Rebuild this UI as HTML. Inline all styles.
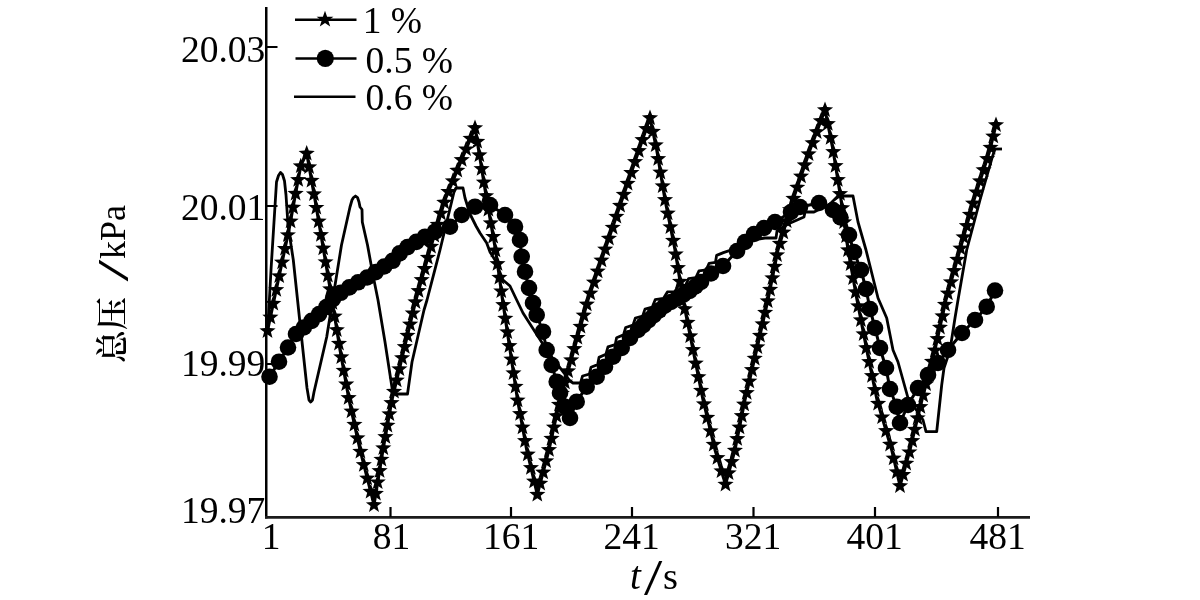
<!DOCTYPE html>
<html><head><meta charset="utf-8"><title>chart</title>
<style>
html,body{margin:0;padding:0;background:#fff;}
body{width:1200px;height:600px;overflow:hidden;}
svg{display:block;}
text{font-family:"Liberation Serif","Noto Serif CJK SC",serif;fill:#000;}
.cjk{font-family:"Liberation Serif","Noto Serif CJK SC",serif;font-weight:600;}
</style></head><body>
<svg width="1200" height="600" viewBox="0 0 1200 600">
<rect width="1200" height="600" fill="#fff"/>
<g style="filter:blur(0.45px)">
<!-- axes -->
<path d="M266.25,7V518.5" stroke="#000" stroke-width="2.5" fill="none"/>
<path d="M265,517.4H1030" stroke="#1c1c1c" stroke-width="2.9" fill="none"/>
<path d="M390.5,517V507M511,517V507M632,517V507M753.5,517V507M875,517V507M998,517V507M266,47H277.5M266,206H277.5M266,364H277.5" stroke="#000" stroke-width="2.2" fill="none"/>
<!-- y tick labels -->
<g font-size="37.5" text-anchor="end">
<text x="265.3" y="62.3">20.03</text>
<text x="265.3" y="220">20.01</text>
<text x="265.3" y="375.7">19.99</text>
<text x="265.3" y="522.5">19.97</text>
</g>
<!-- x tick labels -->
<g font-size="37.5" text-anchor="middle">
<text x="271" y="548.7">1</text>
<text x="391.5" y="548.7">81</text>
<text x="511" y="548.7">161</text>
<text x="631.5" y="548.7">241</text>
<text x="753" y="548.7">321</text>
<text x="874.5" y="548.7">401</text>
<text x="997.5" y="548.7">481</text>
</g>
<!-- axis titles -->
<text x="630" y="589" font-size="39" font-style="italic">t</text>
<text transform="translate(644,594) scale(1.32,1)" font-size="50">/</text>
<text x="663" y="589" font-size="38.5">s</text>
<g transform="translate(125,360) rotate(-90)">
<text class="cjk" x="-3" y="-1" font-size="33">总压</text>
<text transform="translate(78.5,3) scale(1.75,1)" font-size="45">/</text>
<text x="101" y="0" font-size="36">kPa</text>
</g>
<!-- legend -->
<path d="M295,19.7H356.5M295.5,58.5H356.5" stroke="#000" stroke-width="2.5" fill="none"/>
<path d="M294,96.7H355.5" stroke="#000" stroke-width="2.5" fill="none"/>
<path d="M325,10.7 327.1,16.7 333.4,16.8 328.3,20.6 330.2,26.6 325,23 319.8,26.6 321.7,20.6 316.6,16.8 322.9,16.7Z" fill="#000"/>
<circle cx="325.3" cy="58.3" r="8.6" fill="#000"/>
<g font-size="37.5">
<text x="362.7" y="32.5">1 %</text>
<text x="365.5" y="73">0.5 %</text>
<text x="365.5" y="110">0.6 %</text>
</g>
<!-- series 0.6 % -->
<path d="M268,325 L271,270 L274,222 L276.5,182 L278.5,175.5 L280.5,172.5 L282.5,174.5 L284.5,181 L286,195 L288,225 L293.3,260 L300,323 L307,388 L309,400 L310.7,402 L312.5,400 L314,392 L326.7,337 L341.5,245 L350,207 L352,200 L353.5,197.5 L355.5,196 L357.5,197.5 L359,202 L360,207 L362,209.5 L362.3,222 L367.5,245 L373.3,276.7 L378,300 L385,342 L393,394 L407.5,394 L412,362 L424,310 L427,300 L440,250 L454,192 L456,188 L463,188 L465,198 L470,214 L476,226 L480,233 L486.7,243 L490,252 L495,260 L503,280 L510,286 L516.7,300 L523,313 L535,331.7 L548,352 L563,371.7 L570,381 L573,383 L580,383 L580.6,382.6 L582.6,376 L589.4,374.1 L591,367.2 L597.7,364.6 L599,357.4 L605.9,354.3 L608,346.8 L615.2,344.7 L616.6,337.7 L623.5,334.9 L625.7,327.5 L633,325.1 L635.4,318 L642.6,316.1 L645,309.1 L652.2,307.2 L655.2,299.7 L663.4,298.4 L667.4,291.9 L674.8,291.6 L678.6,285.3 L685.7,285.1 L688.6,278.7 L695.9,277.6 L699,270.9 L706.3,269.8 L709.1,263.3 L715.5,262.3 L716.6,255.4 L723.4,252.6 L740,247 L748,247 L752,240 L765,238 L776,238 L777,231 L788,224 L804,217 L805,212 L814,212 L822,208 L830,204 L834,200 L838,196 L853,196 L858,222 L866,250 L874,282 L878,298 L886.7,318 L893,350 L898,362 L908,398 L915,408 L923,420 L926,431.7 L936.7,431.7 L938.7,413 L941.7,385 L944,368 L950,350 L955,318 L958,300 L966.7,250 L980,200 L992,158 L995,149" stroke="#000" stroke-width="2.8" fill="none" stroke-linejoin="round"/>
<path d="M989,149 L1002,149" stroke="#000" stroke-width="2.8" fill="none"/>
<!-- series 0.5 % -->
<path d="M269.5,376.7 L279,361.7 L288,347.5 L296,334 L303.8,327.5 L311.6,320.9 L319.1,314.1 L326.4,307 L332.9,299.2 L340.7,292.8 L349.3,287.4 L358.1,282.3 L367.1,277.5 L375.7,272.1 L384.2,266.5 L392.6,260.8 L399.6,253.4 L407.5,247.1 L416.3,241.9 L425,236.7 L435,231.7 L450,226.7 L461.7,215 L475,206.7 L490,205 L505,215 L515,226.7 L520,240 L521.7,256.7 L525,271.7 L529,288 L533,303 L536.7,315 L543,331.7 L546.7,350 L551.7,365 L556.7,381.7 L560,393 L565,406.7 L570,418 L576.7,401.7 L586.7,386.7 L596.7,376.7 L605,366.7 L613,356.7 L621.7,348 L630,338 L638,330 L643.3,325.1 L648.6,320.1 L653.9,315.2 L659.2,310.3 L664.7,305.7 L670.9,302 L677.2,298.3 L683.4,294.6 L689.6,290.9 L695.3,286.5 L701,282 L711,273.5 L723,266 L737,251 L745,242 L754,234 L764,228 L775,222 L791,212 L800,207 L819,203 L833,210 L840.5,217.5 L849,235 L854,252 L861,270 L866,289 L870,309 L875,328 L880,348 L886,368 L890,389 L896.7,406.7 L900,423 L908,405 L918,388 L928,375 L938,363 L948,350 L962,333 L975,320 L986.7,306.7 L995,290.5" stroke="#000" stroke-width="3" fill="none" stroke-linejoin="round"/>
<g fill="#000"><circle cx="269.5" cy="376.7" r="8.3"/><circle cx="279" cy="361.7" r="8.3"/><circle cx="288" cy="347.5" r="8.3"/><circle cx="296" cy="334" r="8.3"/><circle cx="303.8" cy="327.5" r="8.3"/><circle cx="311.6" cy="320.9" r="8.3"/><circle cx="319.1" cy="314.1" r="8.3"/><circle cx="326.4" cy="307" r="8.3"/><circle cx="332.9" cy="299.2" r="8.3"/><circle cx="340.7" cy="292.8" r="8.3"/><circle cx="349.3" cy="287.4" r="8.3"/><circle cx="358.1" cy="282.3" r="8.3"/><circle cx="367.1" cy="277.5" r="8.3"/><circle cx="375.7" cy="272.1" r="8.3"/><circle cx="384.2" cy="266.5" r="8.3"/><circle cx="392.6" cy="260.8" r="8.3"/><circle cx="399.6" cy="253.4" r="8.3"/><circle cx="407.5" cy="247.1" r="8.3"/><circle cx="416.3" cy="241.9" r="8.3"/><circle cx="425" cy="236.7" r="8.3"/><circle cx="435" cy="231.7" r="8.3"/><circle cx="450" cy="226.7" r="8.3"/><circle cx="461.7" cy="215" r="8.3"/><circle cx="475" cy="206.7" r="8.3"/><circle cx="490" cy="205" r="8.3"/><circle cx="505" cy="215" r="8.3"/><circle cx="515" cy="226.7" r="8.3"/><circle cx="520" cy="240" r="8.3"/><circle cx="521.7" cy="256.7" r="8.3"/><circle cx="525" cy="271.7" r="8.3"/><circle cx="529" cy="288" r="8.3"/><circle cx="533" cy="303" r="8.3"/><circle cx="536.7" cy="315" r="8.3"/><circle cx="543" cy="331.7" r="8.3"/><circle cx="546.7" cy="350" r="8.3"/><circle cx="551.7" cy="365" r="8.3"/><circle cx="556.7" cy="381.7" r="8.3"/><circle cx="560" cy="393" r="8.3"/><circle cx="565" cy="406.7" r="8.3"/><circle cx="570" cy="418" r="8.3"/><circle cx="576.7" cy="401.7" r="8.3"/><circle cx="586.7" cy="386.7" r="8.3"/><circle cx="596.7" cy="376.7" r="8.3"/><circle cx="605" cy="366.7" r="8.3"/><circle cx="613" cy="356.7" r="8.3"/><circle cx="621.7" cy="348" r="8.3"/><circle cx="630" cy="338" r="8.3"/><circle cx="638" cy="330" r="8.3"/><circle cx="643.3" cy="325.1" r="8.3"/><circle cx="648.6" cy="320.1" r="8.3"/><circle cx="653.9" cy="315.2" r="8.3"/><circle cx="659.2" cy="310.3" r="8.3"/><circle cx="664.7" cy="305.7" r="8.3"/><circle cx="670.9" cy="302" r="8.3"/><circle cx="677.2" cy="298.3" r="8.3"/><circle cx="683.4" cy="294.6" r="8.3"/><circle cx="689.6" cy="290.9" r="8.3"/><circle cx="695.3" cy="286.5" r="8.3"/><circle cx="701" cy="282" r="8.3"/><circle cx="711" cy="273.5" r="8.3"/><circle cx="723" cy="266" r="8.3"/><circle cx="737" cy="251" r="8.3"/><circle cx="745" cy="242" r="8.3"/><circle cx="754" cy="234" r="8.3"/><circle cx="764" cy="228" r="8.3"/><circle cx="775" cy="222" r="8.3"/><circle cx="791" cy="212" r="8.3"/><circle cx="800" cy="207" r="8.3"/><circle cx="819" cy="203" r="8.3"/><circle cx="833" cy="210" r="8.3"/><circle cx="840.5" cy="217.5" r="8.3"/><circle cx="849" cy="235" r="8.3"/><circle cx="854" cy="252" r="8.3"/><circle cx="861" cy="270" r="8.3"/><circle cx="866" cy="289" r="8.3"/><circle cx="870" cy="309" r="8.3"/><circle cx="875" cy="328" r="8.3"/><circle cx="880" cy="348" r="8.3"/><circle cx="886" cy="368" r="8.3"/><circle cx="890" cy="389" r="8.3"/><circle cx="896.7" cy="406.7" r="8.3"/><circle cx="900" cy="423" r="8.3"/><circle cx="908" cy="405" r="8.3"/><circle cx="918" cy="388" r="8.3"/><circle cx="928" cy="375" r="8.3"/><circle cx="938" cy="363" r="8.3"/><circle cx="948" cy="350" r="8.3"/><circle cx="962" cy="333" r="8.3"/><circle cx="975" cy="320" r="8.3"/><circle cx="986.7" cy="306.7" r="8.3"/><circle cx="995" cy="290.5" r="8.3"/></g>
<!-- series 1 % -->
<path d="M267.5,331 L289,230 L295,197 L301,165 L306.7,153.5 L315,200 L323.5,250 L332,300 L340,350 L349,400 L360,450 L374,505 L383,450 L392,400 L416,300 L430,250 L445,200 L475,128 L486.7,200 L495.5,250 L502.5,300 L510,350 L517.5,400 L526.7,450 L537.3,494.7 L549,450 L560,400 L588,300 L605,250 L622,200 L650,118 L656.7,150 L665,200 L675,250 L683,300 L693,350 L703,400 L715,450 L725.5,484.5 L735,450 L745,400 L756.7,350 L768,300 L778,250 L793,200 L810,150 L825,110 L833,150 L841,200 L848,250 L857,300 L866.7,350 L877,400 L891.7,450 L900,486 L910,450 L922,400 L935,350 L946,300 L960,250 L974,200 L990,150 L996,125" stroke="#000" stroke-width="3" fill="none" stroke-linejoin="round"/>
<path d="M267.5,322.5 269.6,328.1 275.6,328.4 270.9,332.1 272.5,337.9 267.5,334.6 262.5,337.9 264.1,332.1 259.4,328.4 265.4,328.1ZM270.4,308.8 272.5,314.4 278.5,314.7 273.8,318.4 275.4,324.2 270.4,320.9 265.4,324.2 267,318.4 262.3,314.7 268.3,314.4ZM273.3,295.1 275.4,300.7 281.4,301 276.7,304.7 278.3,310.5 273.3,307.2 268.3,310.5 269.9,304.7 265.3,301 271.2,300.7ZM276.3,281.4 278.4,287 284.3,287.2 279.6,291 281.3,296.8 276.3,293.4 271.3,296.8 272.9,291 268.2,287.2 274.2,287ZM279.2,267.7 281.3,273.3 287.3,273.5 282.6,277.3 284.2,283 279.2,279.7 274.2,283 275.8,277.3 271.1,273.5 277.1,273.3ZM282.1,254 284.2,259.6 290.2,259.8 285.5,263.6 287.1,269.3 282.1,266 277.1,269.3 278.7,263.6 274,259.8 280,259.6ZM285,240.3 287.1,245.9 293.1,246.1 288.4,249.9 290,255.6 285,252.3 280,255.6 281.6,249.9 276.9,246.1 282.9,245.9ZM287.9,226.5 290,232.2 296,232.4 291.3,236.1 292.9,241.9 287.9,238.6 282.9,241.9 284.5,236.1 279.8,232.4 285.8,232.2ZM290.6,212.8 292.7,218.4 298.7,218.7 294,222.4 295.6,228.2 290.6,224.9 285.6,228.2 287.2,222.4 282.5,218.7 288.5,218.4ZM293.1,199 295.2,204.6 301.2,204.9 296.5,208.6 298.1,214.4 293.1,211.1 288.1,214.4 289.7,208.6 285,204.9 291,204.6ZM295.6,185.2 297.7,190.8 303.7,191.1 299,194.8 300.6,200.6 295.6,197.3 290.6,200.6 292.2,194.8 287.5,191.1 293.5,190.8ZM298.2,171.4 300.3,177 306.3,177.3 301.6,181 303.2,186.8 298.2,183.5 293.2,186.8 294.8,181 290.1,177.3 296.1,177ZM300.8,157.7 302.9,163.3 308.9,163.5 304.2,167.3 305.8,173 300.8,169.7 295.8,173 297.4,167.3 292.7,163.5 298.7,163.3ZM306.7,145 308.8,150.6 314.8,150.9 310.1,154.6 311.7,160.4 306.7,157.1 301.7,160.4 303.3,154.6 298.6,150.9 304.6,150.6ZM309.1,158.6 311.2,164.2 317.2,164.4 312.5,168.2 314.1,173.9 309.1,170.6 304.1,173.9 305.7,168.2 301,164.4 307,164.2ZM311.5,172.1 313.6,177.7 319.6,178 314.9,181.7 316.5,187.5 311.5,184.2 306.5,187.5 308.1,181.7 303.5,178 309.4,177.7ZM314,185.7 316.1,191.3 322,191.5 317.4,195.3 319,201 314,197.7 309,201 310.6,195.3 305.9,191.5 311.9,191.3ZM316.3,199.2 318.4,204.9 324.4,205.1 319.7,208.8 321.3,214.6 316.3,211.3 311.3,214.6 312.9,208.8 308.2,205.1 314.2,204.9ZM318.6,212.8 320.7,218.4 326.7,218.7 322,222.4 323.6,228.2 318.6,224.9 313.6,228.2 315.2,222.4 310.5,218.7 316.5,218.4ZM320.9,226.4 323,232 329,232.3 324.3,236 325.9,241.8 320.9,238.5 315.9,241.8 317.5,236 312.8,232.3 318.8,232ZM323.2,240 325.3,245.6 331.3,245.8 326.6,249.6 328.2,255.3 323.2,252 318.2,255.3 319.8,249.6 315.2,245.8 321.1,245.6ZM325.5,253.5 327.6,259.2 333.6,259.4 328.9,263.1 330.5,268.9 325.5,265.6 320.6,268.9 322.2,263.1 317.5,259.4 323.4,259.2ZM327.9,267.1 330,272.7 335.9,273 331.3,276.7 332.9,282.5 327.9,279.2 322.9,282.5 324.5,276.7 319.8,273 325.8,272.7ZM330.2,280.7 332.3,286.3 338.2,286.6 333.6,290.3 335.2,296.1 330.2,292.8 325.2,296.1 326.8,290.3 322.1,286.6 328.1,286.3ZM332.4,294.3 334.5,299.9 340.5,300.2 335.8,303.9 337.4,309.7 332.4,306.4 327.4,309.7 329,303.9 324.4,300.2 330.3,299.9ZM334.6,307.9 336.7,313.5 342.7,313.8 338,317.5 339.6,323.3 334.6,319.9 329.6,323.3 331.2,317.5 326.5,313.8 332.5,313.5ZM336.8,321.5 338.9,327.1 344.9,327.4 340.2,331.1 341.8,336.9 336.8,333.5 331.8,336.9 333.4,331.1 328.7,327.4 334.7,327.1ZM339,335.1 341.1,340.7 347.1,341 342.4,344.7 344,350.5 339,347.1 334,350.5 335.6,344.7 330.9,341 336.9,340.7ZM341.3,348.7 343.4,354.3 349.4,354.5 344.7,358.3 346.3,364 341.3,360.7 336.3,364 337.9,358.3 333.2,354.5 339.2,354.3ZM343.7,362.2 345.8,367.8 351.8,368.1 347.1,371.8 348.7,377.6 343.7,374.3 338.7,377.6 340.3,371.8 335.6,368.1 341.6,367.8ZM346.2,375.8 348.3,381.4 354.3,381.6 349.6,385.4 351.2,391.1 346.2,387.8 341.2,391.1 342.8,385.4 338.1,381.6 344.1,381.4ZM348.6,389.3 350.7,394.9 356.7,395.2 352,398.9 353.6,404.7 348.6,401.4 343.6,404.7 345.2,398.9 340.5,395.2 346.5,394.9ZM351.5,402.8 353.6,408.4 359.6,408.7 354.9,412.4 356.5,418.2 351.5,414.8 346.5,418.2 348.1,412.4 343.4,408.7 349.4,408.4ZM354.4,416.2 356.5,421.8 362.5,422.1 357.8,425.8 359.4,431.6 354.4,428.3 349.4,431.6 351,425.8 346.4,422.1 352.3,421.8ZM357.4,429.7 359.5,435.3 365.5,435.6 360.8,439.3 362.4,445.1 357.4,441.7 352.4,445.1 354,439.3 349.3,435.6 355.3,435.3ZM360.4,443.1 362.5,448.7 368.5,449 363.8,452.7 365.4,458.5 360.4,455.2 355.4,458.5 357,452.7 352.3,449 358.3,448.7ZM363.8,456.5 365.9,462.1 371.9,462.3 367.2,466.1 368.8,471.8 363.8,468.5 358.8,471.8 360.4,466.1 355.7,462.3 361.7,462.1ZM367.2,469.8 369.3,475.4 375.3,475.7 370.6,479.4 372.2,485.2 367.2,481.9 362.2,485.2 363.8,479.4 359.1,475.7 365.1,475.4ZM370.6,483.2 372.7,488.8 378.7,489 374,492.8 375.6,498.5 370.6,495.2 365.6,498.5 367.2,492.8 362.5,489 368.5,488.8ZM374,496.5 376.1,502.1 382.1,502.4 377.4,506.1 379,511.9 374,508.6 369,511.9 370.6,506.1 365.9,502.4 371.9,502.1ZM375.9,485.1 378,490.7 383.9,491 379.3,494.7 380.9,500.5 375.9,497.2 370.9,500.5 372.5,494.7 367.8,491 373.8,490.7ZM377.7,473.8 379.8,479.4 385.8,479.6 381.1,483.4 382.7,489.1 377.7,485.8 372.7,489.1 374.3,483.4 369.6,479.6 375.6,479.4ZM379.6,462.4 381.7,468 387.7,468.3 383,472 384.6,477.8 379.6,474.5 374.6,477.8 376.2,472 371.5,468.3 377.5,468ZM381.4,451 383.5,456.7 389.5,456.9 384.8,460.6 386.4,466.4 381.4,463.1 376.4,466.4 378,460.6 373.4,456.9 379.3,456.7ZM383.3,439.7 385.4,445.3 391.4,445.6 386.7,449.3 388.3,455.1 383.3,451.8 378.3,455.1 379.9,449.3 375.2,445.6 381.2,445.3ZM385.4,428.4 387.5,434 393.5,434.2 388.8,438 390.4,443.7 385.4,440.4 380.4,443.7 382,438 377.3,434.2 383.3,434ZM387.4,417 389.5,422.6 395.5,422.9 390.8,426.6 392.4,432.4 387.4,429.1 382.4,432.4 384,426.6 379.3,422.9 385.3,422.6ZM389.4,405.7 391.5,411.3 397.5,411.6 392.8,415.3 394.4,421.1 389.4,417.8 384.4,421.1 386.1,415.3 381.4,411.6 387.3,411.3ZM391.5,394.4 393.6,400 399.6,400.2 394.9,404 396.5,409.7 391.5,406.4 386.5,409.7 388.1,404 383.4,400.2 389.4,400ZM394,383.1 396.1,388.7 402.1,389 397.4,392.7 399,398.5 394,395.2 389,398.5 390.6,392.7 385.9,389 391.9,388.7ZM396.7,371.9 398.8,377.5 404.8,377.8 400.1,381.5 401.7,387.3 396.7,384 391.7,387.3 393.3,381.5 388.6,377.8 394.6,377.5ZM399.4,360.7 401.5,366.3 407.5,366.6 402.8,370.3 404.4,376.1 399.4,372.8 394.4,376.1 396,370.3 391.3,366.6 397.3,366.3ZM402.1,349.5 404.2,355.1 410.2,355.4 405.5,359.1 407.1,364.9 402.1,361.6 397.1,364.9 398.7,359.1 394,355.4 400,355.1ZM404.8,338.3 406.9,344 412.8,344.2 408.2,347.9 409.8,353.7 404.8,350.4 399.8,353.7 401.4,347.9 396.7,344.2 402.7,344ZM407.4,327.1 409.5,332.8 415.5,333 410.8,336.7 412.4,342.5 407.4,339.2 402.4,342.5 404.1,336.7 399.4,333 405.3,332.8ZM410.1,315.9 412.2,321.6 418.2,321.8 413.5,325.5 415.1,331.3 410.1,328 405.1,331.3 406.7,325.5 402,321.8 408,321.6ZM412.8,304.7 414.9,310.4 420.9,310.6 416.2,314.4 417.8,320.1 412.8,316.8 407.8,320.1 409.4,314.4 404.7,310.6 410.7,310.4ZM415.5,293.6 417.6,299.2 423.6,299.4 418.9,303.2 420.5,308.9 415.5,305.6 410.5,308.9 412.1,303.2 407.4,299.4 413.4,299.2ZM418.5,282.4 420.6,288.1 426.6,288.3 421.9,292 423.5,297.8 418.5,294.5 413.5,297.8 415.1,292 410.5,288.3 416.4,288.1ZM421.6,271.4 423.7,277 429.7,277.2 425,281 426.6,286.7 421.6,283.4 416.6,286.7 418.2,281 413.6,277.2 419.5,277ZM424.7,260.3 426.8,265.9 432.8,266.1 428.1,269.9 429.7,275.6 424.7,272.3 419.7,275.6 421.3,269.9 416.7,266.1 422.6,265.9ZM427.8,249.2 429.9,254.8 435.9,255.1 431.2,258.8 432.8,264.6 427.8,261.2 422.9,264.6 424.5,258.8 419.8,255.1 425.8,254.8ZM431,238.1 433.1,243.7 439.1,244 434.4,247.7 436,253.5 431,250.2 426,253.5 427.6,247.7 422.9,244 428.9,243.7ZM434.3,227.1 436.4,232.7 442.4,233 437.7,236.7 439.3,242.5 434.3,239.2 429.3,242.5 430.9,236.7 426.2,233 432.2,232.7ZM437.6,216.1 439.7,221.7 445.7,221.9 441,225.7 442.6,231.4 437.6,228.1 432.6,231.4 434.2,225.7 429.6,221.9 435.5,221.7ZM440.9,205 443,210.6 449,210.9 444.3,214.6 445.9,220.4 440.9,217.1 435.9,220.4 437.5,214.6 432.9,210.9 438.8,210.6ZM444.3,194 446.4,199.6 452.3,199.9 447.6,203.6 449.2,209.4 444.3,206.1 439.3,209.4 440.9,203.6 436.2,199.9 442.2,199.6ZM448.4,183.3 450.5,188.9 456.5,189.1 451.8,192.9 453.4,198.7 448.4,195.3 443.4,198.7 445,192.9 440.3,189.1 446.3,188.9ZM452.9,172.6 455,178.3 460.9,178.5 456.3,182.2 457.9,188 452.9,184.7 447.9,188 449.5,182.2 444.8,178.5 450.8,178.3ZM457.3,162 459.4,167.6 465.4,167.9 460.7,171.6 462.3,177.4 457.3,174.1 452.3,177.4 453.9,171.6 449.2,167.9 455.2,167.6ZM461.7,151.4 463.8,157 469.8,157.3 465.1,161 466.7,166.8 461.7,163.5 456.7,166.8 458.3,161 453.6,157.3 459.6,157ZM466.1,140.8 468.2,146.4 474.2,146.6 469.5,150.4 471.1,156.1 466.1,152.8 461.1,156.1 462.7,150.4 458.1,146.6 464,146.4ZM470.6,130.1 472.7,135.7 478.7,136 474,139.7 475.6,145.5 470.6,142.2 465.6,145.5 467.2,139.7 462.5,136 468.5,135.7ZM475,119.5 477.1,125.1 483.1,125.4 478.4,129.1 480,134.9 475,131.6 470,134.9 471.6,129.1 466.9,125.4 472.9,125.1ZM477.2,133.1 479.3,138.7 485.3,139 480.6,142.7 482.2,148.5 477.2,145.2 472.2,148.5 473.8,142.7 469.1,139 475.1,138.7ZM479.4,146.7 481.5,152.3 487.5,152.6 482.8,156.3 484.4,162.1 479.4,158.8 474.4,162.1 476,156.3 471.3,152.6 477.3,152.3ZM481.6,160.3 483.7,165.9 489.7,166.2 485,169.9 486.6,175.7 481.6,172.4 476.6,175.7 478.2,169.9 473.5,166.2 479.5,165.9ZM483.8,173.9 485.9,179.5 491.9,179.8 487.2,183.5 488.8,189.3 483.8,186 478.8,189.3 480.4,183.5 475.8,179.8 481.7,179.5ZM486.1,187.5 488.2,193.1 494.1,193.4 489.4,197.1 491,202.9 486.1,199.6 481.1,202.9 482.7,197.1 478,193.4 484,193.1ZM488.4,201.1 490.5,206.7 496.5,207 491.8,210.7 493.4,216.5 488.4,213.2 483.4,216.5 485,210.7 480.3,207 486.3,206.7ZM490.8,214.7 492.9,220.3 498.9,220.5 494.2,224.3 495.8,230 490.8,226.7 485.8,230 487.4,224.3 482.7,220.5 488.7,220.3ZM493.2,228.2 495.3,233.9 501.3,234.1 496.6,237.8 498.2,243.6 493.2,240.3 488.2,243.6 489.8,237.8 485.1,234.1 491.1,233.9ZM495.5,241.8 497.6,247.4 503.6,247.7 498.9,251.4 500.5,257.2 495.5,253.9 490.5,257.2 492.1,251.4 487.5,247.7 493.4,247.4ZM497.5,255.5 499.6,261.1 505.5,261.3 500.9,265.1 502.5,270.8 497.5,267.5 492.5,270.8 494.1,265.1 489.4,261.3 495.4,261.1ZM499.4,269.1 501.5,274.7 507.4,275 502.8,278.7 504.4,284.5 499.4,281.2 494.4,284.5 496,278.7 491.3,275 497.3,274.7ZM501.3,282.8 503.4,288.4 509.4,288.6 504.7,292.4 506.3,298.1 501.3,294.8 496.3,298.1 497.9,292.4 493.2,288.6 499.2,288.4ZM503.2,296.4 505.3,302 511.3,302.3 506.6,306 508.2,311.8 503.2,308.5 498.2,311.8 499.8,306 495.2,302.3 501.1,302ZM505.3,310 507.4,315.6 513.4,315.9 508.7,319.6 510.3,325.4 505.3,322.1 500.3,325.4 501.9,319.6 497.2,315.9 503.2,315.6ZM507.3,323.7 509.4,329.3 515.4,329.5 510.7,333.3 512.3,339 507.3,335.7 502.3,339 503.9,333.3 499.2,329.5 505.2,329.3ZM509.4,337.3 511.5,342.9 517.5,343.2 512.8,346.9 514.4,352.7 509.4,349.4 504.4,352.7 506,346.9 501.3,343.2 507.3,342.9ZM511.4,350.9 513.5,356.5 519.5,356.8 514.8,360.5 516.4,366.3 511.4,363 506.4,366.3 508,360.5 503.3,356.8 509.3,356.5ZM513.5,364.5 515.6,370.2 521.5,370.4 516.9,374.2 518.5,379.9 513.5,376.6 508.5,379.9 510.1,374.2 505.4,370.4 511.4,370.2ZM515.5,378.2 517.6,383.8 523.6,384.1 518.9,387.8 520.5,393.6 515.5,390.2 510.5,393.6 512.1,387.8 507.4,384.1 513.4,383.8ZM517.6,391.8 519.7,397.4 525.6,397.7 521,401.4 522.6,407.2 517.6,403.9 512.6,407.2 514.2,401.4 509.5,397.7 515.5,397.4ZM520,405.4 522.1,411 528.1,411.2 523.4,415 525,420.7 520,417.4 515.1,420.7 516.7,415 512,411.2 518,411ZM522.5,418.9 524.6,424.5 530.6,424.8 525.9,428.5 527.5,434.3 522.5,431 517.5,434.3 519.1,428.5 514.5,424.8 520.4,424.5ZM525,432.5 527.1,438.1 533.1,438.3 528.4,442.1 530,447.8 525,444.5 520,447.8 521.6,442.1 517,438.3 522.9,438.1ZM527.8,446 529.9,451.6 535.8,451.8 531.2,455.6 532.8,461.3 527.8,458 522.8,461.3 524.4,455.6 519.7,451.8 525.7,451.6ZM530.9,459.4 533,465 539,465.3 534.3,469 535.9,474.8 530.9,471.5 525.9,474.8 527.5,469 522.9,465.3 528.8,465ZM534.1,472.8 536.2,478.4 542.2,478.7 537.5,482.4 539.1,488.2 534.1,484.9 529.1,488.2 530.7,482.4 526,478.7 532,478.4ZM537.3,486.2 539.4,491.8 545.4,492.1 540.7,495.8 542.3,501.6 537.3,498.3 532.3,501.6 533.9,495.8 529.2,492.1 535.2,491.8ZM540.2,475 542.3,480.6 548.3,480.9 543.6,484.6 545.2,490.4 540.2,487.1 535.2,490.4 536.8,484.6 532.1,480.9 538.1,480.6ZM543.2,463.8 545.3,469.4 551.2,469.7 546.6,473.4 548.2,479.2 543.2,475.9 538.2,479.2 539.8,473.4 535.1,469.7 541.1,469.4ZM546.1,452.6 548.2,458.2 554.2,458.5 549.5,462.2 551.1,468 546.1,464.7 541.1,468 542.7,462.2 538,458.5 544,458.2ZM549,441.4 551.1,447 557.1,447.3 552.4,451 554,456.8 549,453.5 544,456.8 545.6,451 540.9,447.3 546.9,447ZM551.5,430.1 553.6,435.7 559.6,436 554.9,439.7 556.5,445.5 551.5,442.2 546.5,445.5 548.1,439.7 543.4,436 549.4,435.7ZM554,418.8 556.1,424.4 562.1,424.7 557.4,428.4 559,434.2 554,430.9 549,434.2 550.6,428.4 545.9,424.7 551.9,424.4ZM556.5,407.5 558.6,413.1 564.6,413.4 559.9,417.1 561.5,422.9 556.5,419.6 551.5,422.9 553.1,417.1 548.4,413.4 554.4,413.1ZM559,396.2 561.1,401.8 567.1,402.1 562.4,405.8 564,411.6 559,408.3 554,411.6 555.6,405.8 550.9,402.1 556.9,401.8ZM561.8,385 563.9,390.6 569.9,390.9 565.2,394.6 566.8,400.4 561.8,397.1 556.8,400.4 558.4,394.6 553.7,390.9 559.7,390.6ZM564.9,373.8 567,379.5 573,379.7 568.3,383.4 569.9,389.2 564.9,385.9 559.9,389.2 561.5,383.4 556.9,379.7 562.8,379.5ZM568.1,362.7 570.2,368.3 576.1,368.6 571.5,372.3 573.1,378.1 568.1,374.8 563.1,378.1 564.7,372.3 560,368.6 566,368.3ZM571.2,351.5 573.3,357.2 579.3,357.4 574.6,361.2 576.2,366.9 571.2,363.6 566.2,366.9 567.8,361.2 563.1,357.4 569.1,357.2ZM574.3,340.4 576.4,346 582.4,346.3 577.7,350 579.3,355.8 574.3,352.5 569.3,355.8 570.9,350 566.2,346.3 572.2,346ZM577.4,329.3 579.5,334.9 585.5,335.1 580.8,338.9 582.4,344.6 577.4,341.3 572.4,344.6 574,338.9 569.3,335.1 575.3,334.9ZM580.5,318.1 582.6,323.7 588.6,324 583.9,327.7 585.5,333.5 580.5,330.2 575.6,333.5 577.2,327.7 572.5,324 578.4,323.7ZM583.7,307 585.8,312.6 591.8,312.8 587.1,316.6 588.7,322.3 583.7,319 578.7,322.3 580.3,316.6 575.6,312.8 581.6,312.6ZM586.8,295.8 588.9,301.4 594.9,301.7 590.2,305.4 591.8,311.2 586.8,307.9 581.8,311.2 583.4,305.4 578.7,301.7 584.7,301.4ZM590.3,284.8 592.4,290.4 598.4,290.7 593.7,294.4 595.3,300.2 590.3,296.9 585.3,300.2 586.9,294.4 582.2,290.7 588.2,290.4ZM594,273.8 596.1,279.4 602.1,279.7 597.4,283.4 599,289.2 594,285.9 589,289.2 590.6,283.4 585.9,279.7 591.9,279.4ZM597.7,262.9 599.8,268.5 605.8,268.7 601.1,272.5 602.7,278.3 597.7,274.9 592.7,278.3 594.3,272.5 589.6,268.7 595.6,268.5ZM601.5,251.9 603.6,257.5 609.5,257.8 604.9,261.5 606.5,267.3 601.5,264 596.5,267.3 598.1,261.5 593.4,257.8 599.4,257.5ZM605.2,241 607.3,246.6 613.3,246.8 608.6,250.6 610.2,256.3 605.2,253 600.2,256.3 601.8,250.6 597.1,246.8 603.1,246.6ZM608.9,230 611,235.6 617,235.9 612.3,239.6 613.9,245.4 608.9,242.1 603.9,245.4 605.5,239.6 600.8,235.9 606.8,235.6ZM612.6,219 614.7,224.7 620.7,224.9 616,228.6 617.6,234.4 612.6,231.1 607.6,234.4 609.2,228.6 604.6,224.9 610.5,224.7ZM616.4,208.1 618.5,213.7 624.4,214 619.8,217.7 621.4,223.5 616.4,220.2 611.4,223.5 613,217.7 608.3,214 614.3,213.7ZM620.1,197.1 622.2,202.7 628.2,203 623.5,206.7 625.1,212.5 620.1,209.2 615.1,212.5 616.7,206.7 612,203 618,202.7ZM623.8,186.2 625.9,191.8 631.9,192 627.2,195.8 628.8,201.5 623.8,198.2 618.8,201.5 620.4,195.8 615.7,192 621.7,191.8ZM627.6,175.2 629.7,180.8 635.6,181.1 631,184.8 632.6,190.6 627.6,187.3 622.6,190.6 624.2,184.8 619.5,181.1 625.5,180.8ZM631.3,164.3 633.4,169.9 639.4,170.1 634.7,173.9 636.3,179.6 631.3,176.3 626.3,179.6 627.9,173.9 623.2,170.1 629.2,169.9ZM635,153.3 637.1,158.9 643.1,159.2 638.4,162.9 640,168.7 635,165.4 630,168.7 631.6,162.9 627,159.2 632.9,158.9ZM638.8,142.4 640.9,148 646.9,148.2 642.2,152 643.8,157.7 638.8,154.4 633.8,157.7 635.4,152 630.7,148.2 636.7,148ZM642.5,131.4 644.6,137 650.6,137.3 645.9,141 647.5,146.8 642.5,143.5 637.5,146.8 639.1,141 634.4,137.3 640.4,137ZM646.3,120.5 648.4,126.1 654.3,126.3 649.7,130.1 651.3,135.8 646.3,132.5 641.3,135.8 642.9,130.1 638.2,126.3 644.2,126.1ZM650,109.5 652.1,115.1 658.1,115.4 653.4,119.1 655,124.9 650,121.6 645,124.9 646.6,119.1 641.9,115.4 647.9,115.1ZM652.8,123.1 654.9,128.7 660.9,128.9 656.2,132.7 657.8,138.5 652.8,135.1 647.8,138.5 649.4,132.7 644.8,128.9 650.7,128.7ZM655.7,136.6 657.8,142.3 663.8,142.5 659.1,146.3 660.7,152 655.7,148.7 650.7,152 652.3,146.3 647.6,142.5 653.6,142.3ZM658.2,150.3 660.3,155.9 666.2,156.2 661.6,159.9 663.2,165.7 658.2,162.4 653.2,165.7 654.8,159.9 650.1,156.2 656.1,155.9ZM660.4,164 662.5,169.6 668.5,169.8 663.8,173.6 665.4,179.4 660.4,176 655.4,179.4 657,173.6 652.3,169.8 658.3,169.6ZM662.7,177.7 664.8,183.3 670.8,183.5 666.1,187.3 667.7,193 662.7,189.7 657.7,193 659.3,187.3 654.6,183.5 660.6,183.3ZM665,191.3 667.1,197 673.1,197.2 668.4,200.9 670,206.7 665,203.4 660,206.7 661.6,200.9 656.9,197.2 662.9,197ZM667.7,204.9 669.8,210.6 675.8,210.8 671.1,214.5 672.7,220.3 667.7,217 662.7,220.3 664.3,214.5 659.6,210.8 665.6,210.6ZM670.4,218.5 672.5,224.2 678.5,224.4 673.8,228.1 675.4,233.9 670.4,230.6 665.4,233.9 667,228.1 662.3,224.4 668.3,224.2ZM673.1,232.1 675.2,237.8 681.2,238 676.5,241.7 678.1,247.5 673.1,244.2 668.1,247.5 669.7,241.7 665,238 671,237.8ZM675.7,245.8 677.8,251.4 683.8,251.6 679.1,255.4 680.7,261.1 675.7,257.8 670.7,261.1 672.3,255.4 667.6,251.6 673.6,251.4ZM677.9,259.5 680,265.1 686,265.3 681.3,269.1 682.9,274.8 677.9,271.5 672.9,274.8 674.5,269.1 669.8,265.3 675.8,265.1ZM680.1,273.2 682.2,278.8 688.1,279 683.5,282.8 685.1,288.5 680.1,285.2 675.1,288.5 676.7,282.8 672,279 678,278.8ZM682.3,286.9 684.4,292.5 690.3,292.7 685.7,296.5 687.3,302.2 682.3,298.9 677.3,302.2 678.9,296.5 674.2,292.7 680.2,292.5ZM684.8,300.5 686.9,306.1 692.9,306.4 688.2,310.1 689.8,315.9 684.8,312.6 679.8,315.9 681.4,310.1 676.7,306.4 682.7,306.1ZM687.5,314.1 689.6,319.7 695.6,320 690.9,323.7 692.5,329.5 687.5,326.2 682.5,329.5 684.1,323.7 679.4,320 685.4,319.7ZM690.2,327.7 692.3,333.3 698.3,333.6 693.6,337.3 695.2,343.1 690.2,339.8 685.2,343.1 686.8,337.3 682.2,333.6 688.1,333.3ZM693,341.3 695.1,346.9 701,347.2 696.4,350.9 698,356.7 693,353.4 688,356.7 689.6,350.9 684.9,347.2 690.9,346.9ZM695.7,354.9 697.8,360.5 703.8,360.8 699.1,364.5 700.7,370.3 695.7,367 690.7,370.3 692.3,364.5 687.6,360.8 693.6,360.5ZM698.4,368.5 700.5,374.1 706.5,374.4 701.8,378.1 703.4,383.9 698.4,380.6 693.4,383.9 695,378.1 690.3,374.4 696.3,374.1ZM701.1,382.1 703.2,387.7 709.2,388 704.5,391.7 706.1,397.5 701.1,394.2 696.1,397.5 697.7,391.7 693,388 699,387.7ZM704,395.6 706.1,401.3 712.1,401.5 707.4,405.3 709,411 704,407.7 699,411 700.6,405.3 695.9,401.5 701.9,401.3ZM707.2,409.1 709.3,414.7 715.3,415 710.6,418.7 712.2,424.5 707.2,421.2 702.2,424.5 703.8,418.7 699.1,415 705.1,414.7ZM710.5,422.6 712.6,428.2 718.6,428.5 713.9,432.2 715.5,438 710.5,434.7 705.5,438 707.1,432.2 702.4,428.5 708.4,428.2ZM713.7,436.1 715.8,441.7 721.8,442 717.1,445.7 718.7,451.5 713.7,448.2 708.7,451.5 710.3,445.7 705.6,442 711.6,441.7ZM717.4,449.5 719.5,455.1 725.5,455.3 720.8,459.1 722.4,464.8 717.4,461.5 712.4,464.8 714,459.1 709.3,455.3 715.3,455.1ZM721.5,462.7 723.6,468.3 729.5,468.6 724.9,472.3 726.5,478.1 721.5,474.8 716.5,478.1 718.1,472.3 713.4,468.6 719.4,468.3ZM725.5,476 727.6,481.6 733.6,481.9 728.9,485.6 730.5,491.4 725.5,488.1 720.5,491.4 722.1,485.6 717.4,481.9 723.4,481.6ZM728.6,464.7 730.7,470.3 736.7,470.5 732,474.3 733.6,480 728.6,476.7 723.6,480 725.2,474.3 720.5,470.5 726.5,470.3ZM731.7,453.3 733.8,458.9 739.8,459.2 735.1,462.9 736.7,468.7 731.7,465.4 726.7,468.7 728.3,462.9 723.7,459.2 729.6,458.9ZM734.9,442 737,447.6 743,447.9 738.3,451.6 739.9,457.4 734.9,454.1 729.9,457.4 731.5,451.6 726.8,447.9 732.8,447.6ZM737.2,430.5 739.3,436.1 745.3,436.3 740.6,440.1 742.2,445.8 737.2,442.5 732.2,445.8 733.8,440.1 729.1,436.3 735.1,436.1ZM739.5,418.9 741.6,424.5 747.6,424.8 742.9,428.5 744.5,434.3 739.5,431 734.5,434.3 736.1,428.5 731.4,424.8 737.4,424.5ZM741.8,407.4 743.9,413 749.9,413.3 745.2,417 746.8,422.8 741.8,419.5 736.8,422.8 738.4,417 733.7,413.3 739.7,413ZM744.1,395.9 746.2,401.5 752.2,401.7 747.5,405.5 749.1,411.2 744.1,407.9 739.1,411.2 740.7,405.5 736,401.7 742,401.5ZM746.7,384.4 748.8,390 754.8,390.3 750.1,394 751.7,399.8 746.7,396.4 741.7,399.8 743.3,394 738.6,390.3 744.6,390ZM749.3,372.9 751.4,378.5 757.4,378.8 752.7,382.5 754.3,388.3 749.3,385 744.3,388.3 746,382.5 741.3,378.8 747.2,378.5ZM752,361.5 754.1,367.1 760.1,367.3 755.4,371.1 757,376.9 752,373.5 747,376.9 748.6,371.1 743.9,367.3 749.9,367.1ZM754.7,350 756.8,355.6 762.8,355.9 758.1,359.6 759.7,365.4 754.7,362.1 749.7,365.4 751.3,359.6 746.6,355.9 752.6,355.6ZM757.4,338.6 759.5,344.2 765.4,344.4 760.8,348.2 762.4,353.9 757.4,350.6 752.4,353.9 754,348.2 749.3,344.4 755.3,344.2ZM760,327.1 762.1,332.7 768,333 763.4,336.7 765,342.5 760,339.2 755,342.5 756.6,336.7 751.9,333 757.9,332.7ZM762.5,315.6 764.6,321.2 770.6,321.5 765.9,325.2 767.5,331 762.5,327.7 757.6,331 759.2,325.2 754.5,321.5 760.4,321.2ZM765.1,304.2 767.2,309.8 773.2,310 768.5,313.8 770.1,319.5 765.1,316.2 760.1,319.5 761.7,313.8 757.1,310 763,309.8ZM767.7,292.7 769.8,298.3 775.8,298.6 771.1,302.3 772.7,308.1 767.7,304.8 762.7,308.1 764.3,302.3 759.6,298.6 765.6,298.3ZM770.1,281.2 772.2,286.8 778.2,287 773.5,290.8 775.1,296.5 770.1,293.2 765.1,296.5 766.7,290.8 762,287 768,286.8ZM772.4,269.6 774.5,275.2 780.5,275.5 775.8,279.2 777.4,285 772.4,281.7 767.4,285 769,279.2 764.3,275.5 770.3,275.2ZM774.7,258.1 776.8,263.7 782.8,264 778.1,267.7 779.7,273.5 774.7,270.2 769.7,273.5 771.3,267.7 766.6,264 772.6,263.7ZM777,246.6 779.1,252.2 785.1,252.4 780.4,256.2 782,261.9 777,258.6 772,261.9 773.6,256.2 768.9,252.4 774.9,252.2ZM779.9,235.2 782,240.8 788,241 783.3,244.8 784.9,250.6 779.9,247.2 774.9,250.6 776.5,244.8 771.8,241 777.8,240.8ZM783.3,223.9 785.4,229.5 791.4,229.8 786.7,233.5 788.3,239.3 783.3,236 778.3,239.3 779.9,233.5 775.2,229.8 781.2,229.5ZM786.7,212.6 788.8,218.3 794.7,218.5 790.1,222.2 791.7,228 786.7,224.7 781.7,228 783.3,222.2 778.6,218.5 784.6,218.3ZM790,201.4 792.1,207 798.1,207.3 793.4,211 795,216.8 790,213.5 785,216.8 786.6,211 782,207.3 787.9,207ZM793.5,190.1 795.6,195.7 801.5,196 796.9,199.7 798.5,205.5 793.5,202.2 788.5,205.5 790.1,199.7 785.4,196 791.4,195.7ZM797.3,179 799.3,184.6 805.3,184.9 800.6,188.6 802.2,194.4 797.3,191.1 792.3,194.4 793.9,188.6 789.2,184.9 795.2,184.6ZM801,167.9 803.1,173.5 809.1,173.7 804.4,177.5 806,183.2 801,179.9 796,183.2 797.6,177.5 793,173.7 798.9,173.5ZM804.8,156.7 806.9,162.3 812.9,162.6 808.2,166.3 809.8,172.1 804.8,168.8 799.8,172.1 801.4,166.3 796.7,162.6 802.7,162.3ZM808.6,145.6 810.7,151.2 816.7,151.5 812,155.2 813.6,161 808.6,157.7 803.6,161 805.2,155.2 800.5,151.5 806.5,151.2ZM812.6,134.5 814.7,140.1 820.7,140.4 816,144.1 817.6,149.9 812.6,146.6 807.6,149.9 809.2,144.1 804.5,140.4 810.5,140.1ZM816.7,123.5 818.8,129.1 824.8,129.4 820.1,133.1 821.7,138.9 816.7,135.6 811.7,138.9 813.3,133.1 808.7,129.4 814.6,129.1ZM820.9,112.5 823,118.1 829,118.4 824.3,122.1 825.9,127.9 820.9,124.6 815.9,127.9 817.5,122.1 812.8,118.4 818.8,118.1ZM825,101.5 827.1,107.1 833.1,107.4 828.4,111.1 830,116.9 825,113.6 820,116.9 821.6,111.1 816.9,107.4 822.9,107.1ZM827.8,115.4 829.9,121 835.9,121.3 831.2,125 832.8,130.8 827.8,127.5 822.8,130.8 824.4,125 819.7,121.3 825.7,121ZM830.6,129.4 832.7,135 838.7,135.2 834,139 835.6,144.8 830.6,141.4 825.6,144.8 827.2,139 822.5,135.2 828.5,135ZM833.3,143.3 835.4,148.9 841.4,149.2 836.7,152.9 838.3,158.7 833.3,155.4 828.3,158.7 829.9,152.9 825.2,149.2 831.2,148.9ZM835.5,157.4 837.6,163 843.6,163.2 838.9,167 840.5,172.7 835.5,169.4 830.5,172.7 832.1,167 827.5,163.2 833.4,163ZM837.8,171.4 839.9,177 845.9,177.3 841.2,181 842.8,186.8 837.8,183.5 832.8,186.8 834.4,181 829.7,177.3 835.7,177ZM840,185.4 842.1,191 848.1,191.3 843.4,195 845,200.8 840,197.5 835,200.8 836.6,195 831.9,191.3 837.9,191ZM842.1,199.5 844.2,205.1 850.2,205.4 845.5,209.1 847.1,214.9 842.1,211.6 837.1,214.9 838.7,209.1 834,205.4 840,205.1ZM844.1,213.6 846.2,219.2 852.2,219.4 847.5,223.2 849.1,228.9 844.1,225.6 839.1,228.9 840.7,223.2 836,219.4 842,219.2ZM846.1,227.6 848.2,233.3 854.1,233.5 849.5,237.2 851.1,243 846.1,239.7 841.1,243 842.7,237.2 838,233.5 844,233.3ZM848,241.7 850.1,247.3 856.1,247.6 851.4,251.3 853,257.1 848,253.8 843,257.1 844.6,251.3 840,247.6 845.9,247.3ZM850.6,255.7 852.7,261.3 858.6,261.6 854,265.3 855.6,271.1 850.6,267.8 845.6,271.1 847.2,265.3 842.5,261.6 848.5,261.3ZM853.1,269.7 855.2,275.3 861.2,275.6 856.5,279.3 858.1,285.1 853.1,281.8 848.1,285.1 849.7,279.3 845,275.6 851,275.3ZM855.6,283.7 857.7,289.3 863.7,289.6 859,293.3 860.6,299.1 855.6,295.8 850.6,299.1 852.2,293.3 847.5,289.6 853.5,289.3ZM858.2,297.7 860.3,303.3 866.3,303.5 861.6,307.3 863.2,313 858.2,309.7 853.2,313 854.8,307.3 850.1,303.5 856.1,303.3ZM860.9,311.6 863,317.2 869,317.5 864.3,321.2 865.9,327 860.9,323.7 855.9,327 857.5,321.2 852.8,317.5 858.8,317.2ZM863.6,325.6 865.7,331.2 871.7,331.4 867,335.2 868.6,340.9 863.6,337.6 858.6,340.9 860.2,335.2 855.5,331.4 861.5,331.2ZM866.3,339.5 868.4,345.1 874.4,345.4 869.7,349.1 871.3,354.9 866.3,351.6 861.3,354.9 862.9,349.1 858.2,345.4 864.2,345.1ZM869.2,353.4 871.3,359.1 877.2,359.3 872.6,363 874.2,368.8 869.2,365.5 864.2,368.8 865.8,363 861.1,359.3 867.1,359.1ZM872,367.4 874.1,373 880.1,373.2 875.4,377 877,382.7 872,379.4 867,382.7 868.6,377 863.9,373.2 869.9,373ZM874.9,381.3 877,386.9 883,387.2 878.3,390.9 879.9,396.7 874.9,393.4 869.9,396.7 871.5,390.9 866.8,387.2 872.8,386.9ZM878.1,395.1 880.2,400.7 886.2,401 881.5,404.7 883.1,410.5 878.1,407.2 873.1,410.5 874.7,404.7 870,401 876,400.7ZM882.1,408.8 884.2,414.4 890.2,414.6 885.5,418.4 887.1,424.1 882.1,420.8 877.1,424.1 878.7,418.4 874,414.6 880,414.4ZM886.1,422.4 888.2,428 894.2,428.3 889.5,432 891.1,437.8 886.1,434.5 881.1,437.8 882.7,432 878,428.3 884,428ZM890.1,436 892.2,441.6 898.2,441.9 893.5,445.6 895.1,451.4 890.1,448.1 885.1,451.4 886.7,445.6 882,441.9 888,441.6ZM893.6,449.8 895.7,455.4 901.7,455.7 897,459.4 898.6,465.2 893.6,461.9 888.6,465.2 890.2,459.4 885.5,455.7 891.5,455.4ZM896.8,463.6 898.9,469.3 904.9,469.5 900.2,473.3 901.8,479 896.8,475.7 891.8,479 893.4,473.3 888.7,469.5 894.7,469.3ZM900,477.5 902.1,483.1 908.1,483.4 903.4,487.1 905,492.9 900,489.6 895,492.9 896.6,487.1 891.9,483.4 897.9,483.1ZM903.1,466.2 905.2,471.9 911.2,472.1 906.5,475.9 908.1,481.6 903.1,478.3 898.1,481.6 899.7,475.9 895,472.1 901,471.9ZM906.3,455 908.3,460.6 914.3,460.9 909.6,464.6 911.2,470.4 906.3,467.1 901.3,470.4 902.9,464.6 898.2,460.9 904.2,460.6ZM909.4,443.7 911.5,449.4 917.5,449.6 912.8,453.3 914.4,459.1 909.4,455.8 904.4,459.1 906,453.3 901.3,449.6 907.3,449.4ZM912.2,432.4 914.3,438 920.3,438.3 915.6,442 917.2,447.8 912.2,444.5 907.2,447.8 908.8,442 904.1,438.3 910.1,438ZM914.9,421.1 917,426.7 923,426.9 918.3,430.7 919.9,436.4 914.9,433.1 909.9,436.4 911.5,430.7 906.8,426.9 912.8,426.7ZM917.6,409.7 919.7,415.3 925.7,415.6 921,419.3 922.6,425.1 917.6,421.8 912.6,425.1 914.2,419.3 909.5,415.6 915.5,415.3ZM920.4,398.3 922.5,404 928.4,404.2 923.8,407.9 925.4,413.7 920.4,410.4 915.4,413.7 917,407.9 912.3,404.2 918.3,404ZM923.2,387 925.3,392.6 931.3,392.9 926.6,396.6 928.2,402.4 923.2,399.1 918.2,402.4 919.8,396.6 915.1,392.9 921.1,392.6ZM926.1,375.7 928.2,381.3 934.2,381.6 929.5,385.3 931.1,391.1 926.1,387.8 921.1,391.1 922.7,385.3 918,381.6 924,381.3ZM929,364.4 931.1,370 937.1,370.3 932.4,374 934,379.8 929,376.5 924,379.8 925.6,374 921,370.3 926.9,370ZM932,353.1 934.1,358.7 940.1,359 935.4,362.7 937,368.5 932,365.2 927,368.5 928.6,362.7 923.9,359 929.9,358.7ZM934.9,341.8 937,347.4 943,347.7 938.3,351.4 939.9,357.2 934.9,353.9 929.9,357.2 931.5,351.4 926.8,347.7 932.8,347.4ZM937.4,330.4 939.5,336 945.5,336.3 940.8,340 942.4,345.8 937.4,342.5 932.4,345.8 934,340 929.4,336.3 935.3,336ZM940,319 942.1,324.6 948,324.9 943.3,328.6 944.9,334.4 940,331.1 935,334.4 936.6,328.6 931.9,324.9 937.9,324.6ZM942.5,307.6 944.6,313.2 950.5,313.5 945.9,317.2 947.5,323 942.5,319.7 937.5,323 939.1,317.2 934.4,313.5 940.4,313.2ZM945,296.2 947.1,301.8 953.1,302.1 948.4,305.8 950,311.6 945,308.3 940,311.6 941.6,305.8 936.9,302.1 942.9,301.8ZM947.9,284.9 950,290.5 955.9,290.7 951.3,294.5 952.9,300.2 947.9,296.9 942.9,300.2 944.5,294.5 939.8,290.7 945.8,290.5ZM951,273.6 953.1,279.2 959.1,279.5 954.4,283.2 956,289 951,285.7 946,289 947.6,283.2 942.9,279.5 948.9,279.2ZM954.2,262.4 956.3,268 962.2,268.3 957.5,272 959.1,277.8 954.2,274.4 949.2,277.8 950.8,272 946.1,268.3 952.1,268ZM957.3,251.1 959.4,256.7 965.4,257 960.7,260.7 962.3,266.5 957.3,263.2 952.3,266.5 953.9,260.7 949.2,257 955.2,256.7ZM960.5,239.9 962.5,245.5 968.5,245.8 963.8,249.5 965.4,255.3 960.5,252 955.5,255.3 957.1,249.5 952.4,245.8 958.4,245.5ZM963.6,228.6 965.7,234.3 971.7,234.5 967,238.2 968.6,244 963.6,240.7 958.6,244 960.2,238.2 955.5,234.5 961.5,234.3ZM966.7,217.4 968.8,223 974.8,223.3 970.1,227 971.7,232.8 966.7,229.5 961.8,232.8 963.4,227 958.7,223.3 964.7,223ZM969.9,206.2 972,211.8 978,212 973.3,215.8 974.9,221.5 969.9,218.2 964.9,221.5 966.5,215.8 961.8,212 967.8,211.8ZM973,194.9 975.1,200.5 981.1,200.8 976.4,204.5 978,210.3 973,207 968,210.3 969.7,204.5 965,200.8 970.9,200.5ZM976.5,183.7 978.6,189.4 984.6,189.6 979.9,193.4 981.5,199.1 976.5,195.8 971.5,199.1 973.1,193.4 968.4,189.6 974.4,189.4ZM980,172.6 982.1,178.2 988.1,178.5 983.4,182.2 985,188 980,184.7 975,188 976.6,182.2 972,178.5 977.9,178.2ZM983.6,161.5 985.7,167.1 991.7,167.4 987,171.1 988.6,176.9 983.6,173.6 978.6,176.9 980.2,171.1 975.5,167.4 981.5,167.1ZM987.2,150.4 989.3,156 995.2,156.3 990.6,160 992.2,165.8 987.2,162.5 982.2,165.8 983.8,160 979.1,156.3 985.1,156ZM990.5,139.2 992.6,144.8 998.6,145.1 993.9,148.8 995.5,154.6 990.5,151.3 985.6,154.6 987.2,148.8 982.5,145.1 988.5,144.8ZM993.3,127.9 995.4,133.5 1001.4,133.7 996.7,137.5 998.3,143.2 993.3,139.9 988.3,143.2 989.9,137.5 985.2,133.7 991.2,133.5ZM996,116.5 998.1,122.1 1004.1,122.4 999.4,126.1 1001,131.9 996,128.6 991,131.9 992.6,126.1 987.9,122.4 993.9,122.1Z" fill="#000"/>
</g>
</svg>
</body></html>
